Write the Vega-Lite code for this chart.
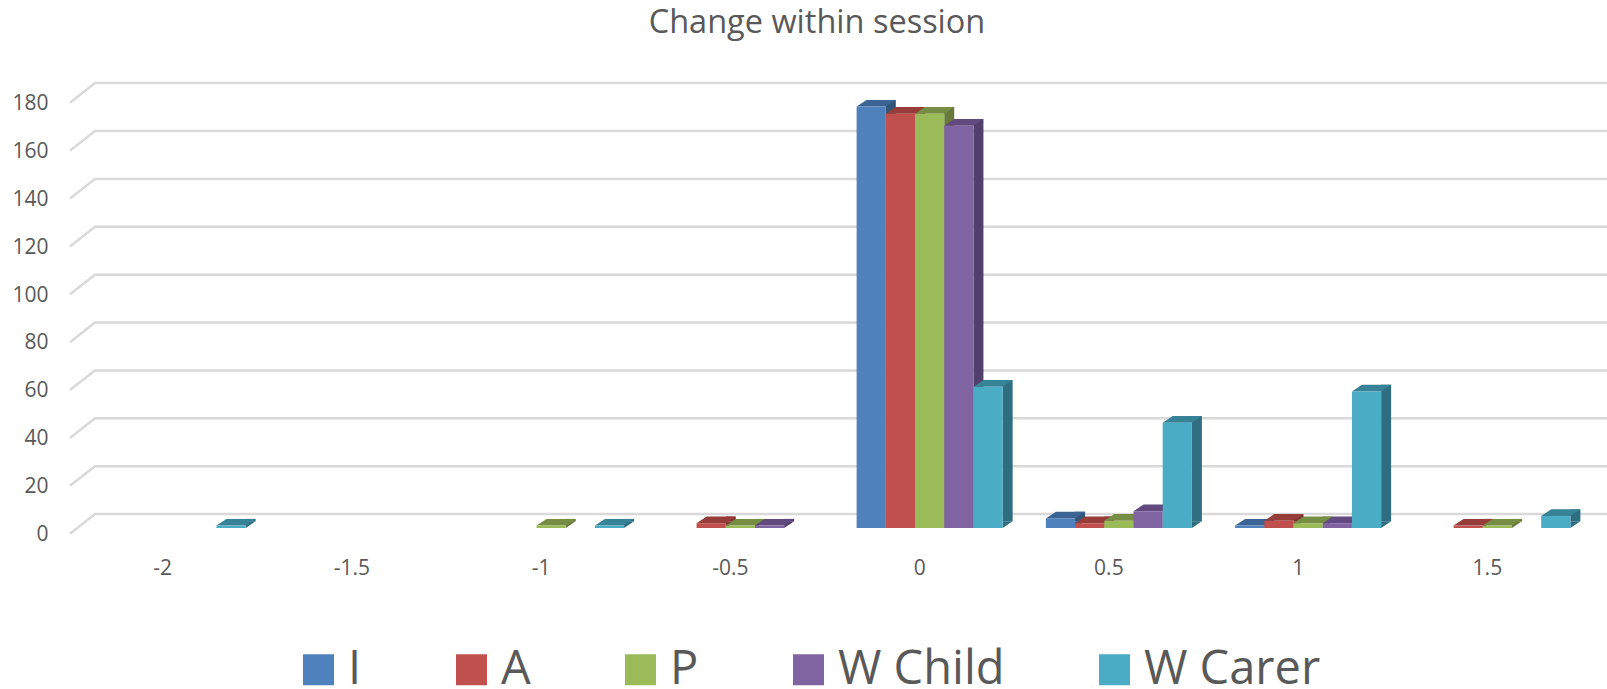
{
"$schema":"https://vega.github.io/schema/vega-lite/v6.json",
"autosize":"none",
"width":1514,"height":431,
"padding":{"left":78,"top":97,"right":15,"bottom":161},
"background":"white",
"title":{"text":"Change within session","font":"Open Sans","fontSize":32.5,"fontWeight":"normal","color":"#595959","anchor":"middle","frame":"group","dx":-18,"offset":39},
"config":{"view":{"stroke":null},"font":"Open Sans"},
"datasets":{
"bars":[
{"change":"-2","series":"W Carer","count":1},
{"change":"-1","series":"P","count":1},
{"change":"-1","series":"W Carer","count":1},
{"change":"-0.5","series":"A","count":2},
{"change":"-0.5","series":"P","count":1},
{"change":"-0.5","series":"W Child","count":1},
{"change":"0","series":"I","count":176},
{"change":"0","series":"A","count":173},
{"change":"0","series":"P","count":173},
{"change":"0","series":"W Child","count":168},
{"change":"0","series":"W Carer","count":59},
{"change":"0.5","series":"I","count":4},
{"change":"0.5","series":"A","count":2},
{"change":"0.5","series":"P","count":3},
{"change":"0.5","series":"W Child","count":7},
{"change":"0.5","series":"W Carer","count":44},
{"change":"1","series":"I","count":1},
{"change":"1","series":"A","count":3},
{"change":"1","series":"P","count":2},
{"change":"1","series":"W Child","count":2},
{"change":"1","series":"W Carer","count":57},
{"change":"1.5","series":"A","count":1},
{"change":"1.5","series":"P","count":1},
{"change":"1.5","series":"W Carer","count":5}
],
"grid":[
{"tick":0,"along":-8,"level":-2.4},{"tick":0,"along":17,"level":5.8},{"tick":0,"along":1529,"level":5.8},
{"tick":20,"along":-8,"level":17.6},{"tick":20,"along":17,"level":25.8},{"tick":20,"along":1529,"level":25.8},
{"tick":40,"along":-8,"level":37.6},{"tick":40,"along":17,"level":45.8},{"tick":40,"along":1529,"level":45.8},
{"tick":60,"along":-8,"level":57.6},{"tick":60,"along":17,"level":65.8},{"tick":60,"along":1529,"level":65.8},
{"tick":80,"along":-8,"level":77.6},{"tick":80,"along":17,"level":85.8},{"tick":80,"along":1529,"level":85.8},
{"tick":100,"along":-8,"level":97.6},{"tick":100,"along":17,"level":105.8},{"tick":100,"along":1529,"level":105.8},
{"tick":120,"along":-8,"level":117.6},{"tick":120,"along":17,"level":125.8},{"tick":120,"along":1529,"level":125.8},
{"tick":140,"along":-8,"level":137.6},{"tick":140,"along":17,"level":145.8},{"tick":140,"along":1529,"level":145.8},
{"tick":160,"along":-8,"level":157.6},{"tick":160,"along":17,"level":165.8},{"tick":160,"along":1529,"level":165.8},
{"tick":180,"along":-8,"level":177.6},{"tick":180,"along":17,"level":185.8},{"tick":180,"along":1529,"level":185.8}
]},
"layer":[
{"data":{"name":"grid"},
 "mark":{"type":"line","color":"#D9D9D9","strokeWidth":2.5,"clip":false},
 "encoding":{
  "x":{"field":"along","type":"quantitative","scale":{"domain":[0,1514],"nice":false,"zero":false},"axis":null},
  "y":{"field":"level","type":"quantitative","scale":{"domain":[0,180],"nice":false},
   "axis":{"title":null,"domain":false,"ticks":false,"grid":false,"values":[0,20,40,60,80,100,120,140,160,180],"labelOffset":6.5,"labelPadding":30,"labelFont":"Open Sans","labelFontSize":21,"labelColor":"#595959"}},
  "detail":{"field":"tick"},
  "order":{"field":"along"}}},
{"data":{"name":"bars"},
 "mark":{"type":"rule","strokeWidth":10,"yOffset":-6.7,"y2Offset":-6.7},
 "encoding":{
  "x":{"field":"change","type":"ordinal","scale":{"type":"band","domain":["-2","-1.5","-1","-0.5","0","0.5","1","1.5"],"paddingInner":0,"paddingOuter":0},"axis":null},
  "xOffset":{"field":"series","type":"nominal","scale":{"type":"band","domain":["I","A","P","W Child","W Carer"],"paddingInner":0,"paddingOuter":0.74,"range":[19.6,208.85]}},
  "y":{"field":"count","type":"quantitative"},
  "y2":{"datum":0},
  "color":{"field":"series","type":"nominal","legend":null,"scale":{"domain":["I","A","P","W Child","W Carer"],"range":["#335579","#823633","#667B3C","#533F6E","#2E6E80"]}}}},
{"data":{"name":"bars"},
 "mark":{"type":"point","filled":true,"opacity":1,"size":4,"shape":"M14.6,0L24.6,-6.7L14.6,-6.7Z"},
 "encoding":{
  "x":{"field":"change","type":"ordinal","scale":{"type":"band","domain":["-2","-1.5","-1","-0.5","0","0.5","1","1.5"],"paddingInner":0,"paddingOuter":0},"axis":null},
  "xOffset":{"field":"series","type":"nominal","scale":{"type":"band","domain":["I","A","P","W Child","W Carer"],"paddingInner":0,"paddingOuter":0.74}},
  "y":{"datum":0,"type":"quantitative"},
  "color":{"field":"series","type":"nominal","legend":null,"scale":{"domain":["I","A","P","W Child","W Carer"],"range":["#335579","#823633","#667B3C","#533F6E","#2E6E80"]}}}},
{"data":{"name":"bars"},
 "mark":{"type":"point","filled":true,"opacity":1,"size":4,"shape":"M-14.6,0L14.6,0L24.6,-6.7L-4.6,-6.7Z"},
 "encoding":{
  "x":{"field":"change","type":"ordinal","scale":{"type":"band","domain":["-2","-1.5","-1","-0.5","0","0.5","1","1.5"],"paddingInner":0,"paddingOuter":0},"axis":null},
  "xOffset":{"field":"series","type":"nominal","scale":{"type":"band","domain":["I","A","P","W Child","W Carer"],"paddingInner":0,"paddingOuter":0.74}},
  "y":{"field":"count","type":"quantitative"},
  "color":{"field":"series","type":"nominal","legend":null,"scale":{"domain":["I","A","P","W Child","W Carer"],"range":["#3B6494","#963D3A","#768E44","#62497F","#368296"]}}}},
{"data":{"name":"bars"},
 "mark":{"type":"bar","cornerRadius":0},
 "encoding":{
  "x":{"field":"change","type":"ordinal","scale":{"domain":["-2","-1.5","-1","-0.5","0","0.5","1","1.5"],"paddingInner":0,"paddingOuter":0},
   "axis":{"title":null,"domain":false,"ticks":false,"labelAngle":0,"labelOffset":-10,"labelPadding":29,"labelFont":"Open Sans","labelFontSize":21,"labelColor":"#595959"}},
  "xOffset":{"field":"series","type":"nominal","scale":{"domain":["I","A","P","W Child","W Carer"],"paddingInner":0,"paddingOuter":0.74}},
  "y":{"field":"count","type":"quantitative"},
  "color":{"field":"series","type":"nominal","scale":{"domain":["I","A","P","W Child","W Carer"],"range":["#4F81BD","#C0504D","#9BBB59","#8064A2","#4BACC6"]},
   "legend":{"title":null,"orient":"none","legendX":217,"legendY":549,"direction":"horizontal","columns":5,"symbolType":"square","symbolSize":961,"symbolStrokeWidth":0,"symbolOpacity":1,"labelFont":"Open Sans","labelFontSize":47,"labelColor":"#595959","labelOffset":6,"columnPadding":86,"labelLimit":400}}}}
],
"resolve":{"scale":{"x":"independent","xOffset":"independent","color":"independent"}}
}
